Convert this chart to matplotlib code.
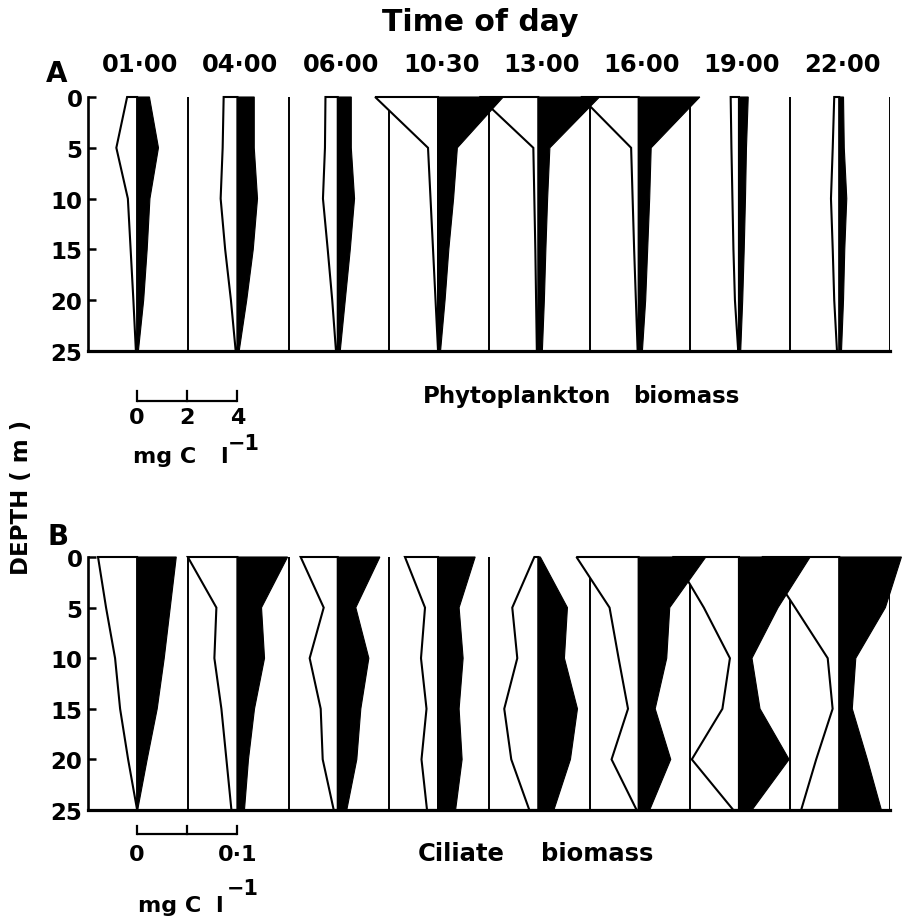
import matplotlib.pyplot as plt
from matplotlib.patches import Polygon
from matplotlib.transforms import blended_transform_factory

plt.rcParams['font.family'] = 'DejaVu Sans'
plt.rcParams['font.weight'] = 'bold'

times = ['01·00', '04·00', '06·00', '10·30', '13·00', '16·00', '19·00', '22·00']
depths = [0, 5, 10, 15, 20, 25]

# phytoplankton biomass, mg C l-1 (open profile left of each baseline, filled profile right)
phyto_open = [
    [0.40, 0.83, 0.37, 0.26, 0.15, 0.05],
    [0.55, 0.59, 0.67, 0.49, 0.26, 0.07],
    [0.49, 0.51, 0.59, 0.40, 0.22, 0.07],
    [2.51, 0.40, 0.30, 0.20, 0.10, 0.00],
    [2.35, 0.20, 0.16, 0.12, 0.09, 0.06],
    [2.30, 0.30, 0.24, 0.18, 0.11, 0.04],
    [0.33, 0.30, 0.26, 0.22, 0.16, 0.03],
    [0.20, 0.26, 0.33, 0.26, 0.20, 0.09],
]
phyto_filled = [
    [0.49, 0.85, 0.51, 0.40, 0.26, 0.05],
    [0.67, 0.67, 0.80, 0.63, 0.37, 0.07],
    [0.54, 0.54, 0.67, 0.50, 0.30, 0.10],
    [2.60, 0.77, 0.62, 0.43, 0.28, 0.10],
    [2.44, 0.46, 0.37, 0.30, 0.24, 0.16],
    [2.44, 0.50, 0.44, 0.36, 0.28, 0.15],
    [0.37, 0.30, 0.26, 0.21, 0.15, 0.07],
    [0.17, 0.20, 0.30, 0.22, 0.17, 0.09],
]

# ciliate biomass, mg C l-1
ciliate_open = [
    [0.039, 0.031, 0.022, 0.017, 0.009, 0.000],
    [0.0495, 0.021, 0.023, 0.016, 0.011, 0.006],
    [0.037, 0.014, 0.028, 0.017, 0.015, 0.004],
    [0.033, 0.013, 0.017, 0.0115, 0.0165, 0.011],
    [0.004, 0.026, 0.021, 0.034, 0.027, 0.009],
    [0.062, 0.029, 0.020, 0.0106, 0.027, 0.002],
    [0.065, 0.035, 0.009, 0.0165, 0.047, 0.0056],
    [0.077, 0.044, 0.0115, 0.0066, 0.023, 0.038],
]
ciliate_filled = [
    [0.039, 0.033, 0.027, 0.020, 0.010, 0.0005],
    [0.050, 0.024, 0.027, 0.017, 0.011, 0.007],
    [0.042, 0.018, 0.031, 0.023, 0.019, 0.009],
    [0.037, 0.021, 0.025, 0.021, 0.024, 0.0175],
    [0.002, 0.029, 0.026, 0.039, 0.032, 0.0155],
    [0.067, 0.031, 0.028, 0.0165, 0.032, 0.011],
    [0.071, 0.039, 0.013, 0.021, 0.050, 0.013],
    [0.062, 0.046, 0.0165, 0.013, 0.028, 0.042],
]

W, H = 903, 920
fig = plt.figure(figsize=(W / 100, H / 100), dpi=100)

BASE = 0.49  # baseline position inside each column


def px_axes(left, top, right, bottom):
    return fig.add_axes([left / W, 1 - bottom / H, (right - left) / W, (bottom - top) / H])


def fig_text(x, y, s, **kw):
    fig.text(x / W, 1 - y / H, s, **kw)


def profiles(ax, open_vals, filled_vals, per_col):
    # per_col: concentration spanning one column width
    for k in range(1, len(times) + 1):
        ax.plot([k, k], [0, 25], color='black', lw=1.4, zorder=1, solid_capstyle='butt')
    for i, vals in enumerate(open_vals):
        x0 = i + BASE
        pts = [(x0 - v / per_col, d) for v, d in zip(vals, depths)] + [(x0, 25), (x0, 0)]
        ax.add_patch(Polygon(pts, closed=True, fc='white', ec='black', lw=1.5,
                             joinstyle='miter', zorder=2, clip_on=False))
    for i, vals in enumerate(filled_vals):
        x0 = i + BASE
        pts = [(x0 + v / per_col, d) for v, d in zip(vals, depths)] + [(x0, 25), (x0, 0)]
        ax.add_patch(Polygon(pts, closed=True, fc='black', ec='black', lw=0.8,
                             zorder=3, clip_on=False))
    ax.set_xlim(0, len(times))
    ax.set_ylim(25, 0)
    ax.set_facecolor('none')
    for side in ['top', 'right']:
        ax.spines[side].set_visible(False)
    ax.spines['left'].set_linewidth(1.9)
    ax.spines['bottom'].set_linewidth(2.3)
    ax.spines['bottom'].set_zorder(5)
    ax.set_xticks([])
    ax.set_yticks(depths)
    ax.set_yticklabels([str(d) for d in depths])
    ax.tick_params(axis='y', direction='in', length=5.5, width=1.8, pad=4, labelsize=16.5)


def scale_bar(ax, y, tick_h, per_col, ticks):
    x0 = BASE
    x1 = BASE + ticks[-1] / per_col
    ax.plot([x0, x1], [y, y], color='black', lw=1.6, clip_on=False, solid_capstyle='butt')
    for v in ticks:
        ax.plot([x0 + v / per_col] * 2, [y, y - tick_h], color='black', lw=1.6, clip_on=False)


ax_a = px_axes(88, 98, 890.4, 352)
profiles(ax_a, phyto_open, phyto_filled, 4.0)
scale_bar(ax_a, 29.9, 1.0, 4.0, [0, 2, 4])

ax_b = px_axes(88, 558, 890.4, 811)
profiles(ax_b, ciliate_open, ciliate_filled, 0.1)
scale_bar(ax_b, 27.4, 0.85, 0.1, [0, 0.05, 0.1])

# time labels above panel A
trans = blended_transform_factory(ax_a.transData, fig.transFigure)
for i, t in enumerate(times):
    ax_a.text(i + BASE + 0.03, 1 - 72 / H, t, transform=trans, ha='center', va='baseline',
              fontsize=17.5, fontweight='bold')

fig_text(480, 31, 'Time of day', ha='center', va='baseline', fontsize=21.5)
fig_text(46, 82, 'A', ha='left', va='baseline', fontsize=20)
fig_text(47, 545, 'B', ha='left', va='baseline', fontsize=20)
fig_text(22, 497, 'DEPTH ( m )', ha='center', va='center', rotation=90, fontsize=16.5)

# scale bar labels, panel A
trans_a = blended_transform_factory(ax_a.transData, fig.transFigure)
for v, lab in [(0, '0'), (2, '2'), (4, '4')]:
    ax_a.text(BASE + v / 4.0, 1 - 418 / H, lab, transform=trans_a, ha='center', va='center',
              fontsize=16)
fig_text(133, 463, 'mg C', ha='left', va='baseline', fontsize=16)
fig_text(220, 463, 'l', ha='left', va='baseline', fontsize=16)
fig_text(228, 450, '−1', ha='left', va='baseline', fontsize=15)
fig_text(423, 403, 'Phytoplankton', ha='left', va='baseline', fontsize=16.5)
fig_text(633, 403, 'biomass', ha='left', va='baseline', fontsize=16.5)

# scale bar labels, panel B
trans_b = blended_transform_factory(ax_b.transData, fig.transFigure)
for v, lab in [(0, '0'), (0.1, '0·1')]:
    ax_b.text(BASE + v / 0.1, 1 - 855 / H, lab, transform=trans_b, ha='center', va='center',
              fontsize=16)
fig_text(138, 912, 'mg C', ha='left', va='baseline', fontsize=16)
fig_text(215, 912, 'l', ha='left', va='baseline', fontsize=16)
fig_text(227, 895, '−1', ha='left', va='baseline', fontsize=15)
fig_text(418, 861, 'Ciliate', ha='left', va='baseline', fontsize=17.5)
fig_text(541, 861, 'biomass', ha='left', va='baseline', fontsize=17.5)

fig.savefig('out.png', dpi=100, facecolor='white')
